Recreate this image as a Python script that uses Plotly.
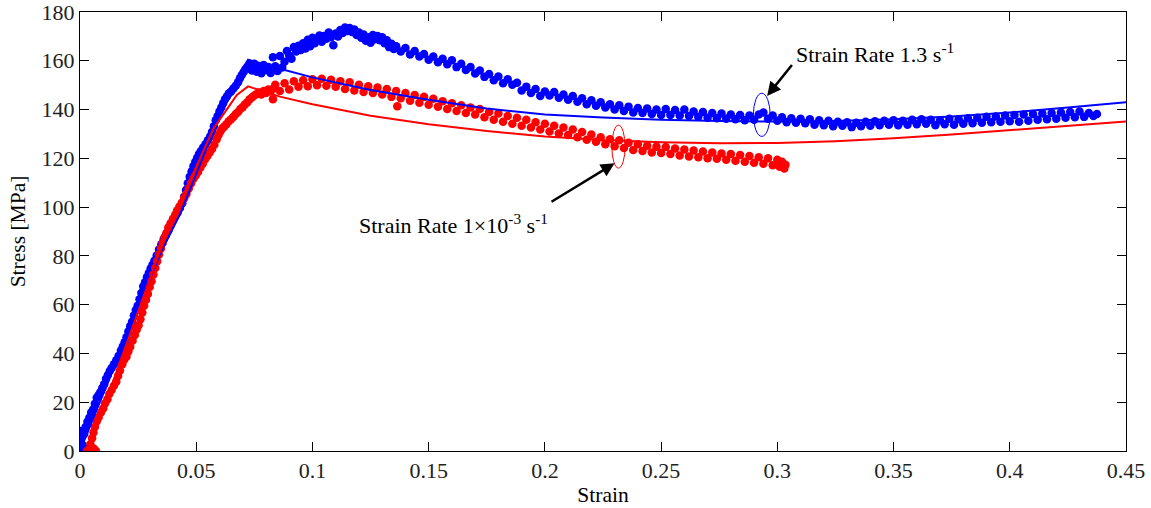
import plotly.graph_objects as go

# ---------------- data ----------------
# Experimental points, strain rate 1.3 s^-1 (blue dots): (strain, stress MPa)
blue_exp = [
    (0.0000, 0.8), (0.0004, 3.6), (0.0008, 6.4), (0.0002, 8.2), (0.0012, 2.4), (0.0018, 7.0),
    (0.0024, 9.8), (0.0032, 12.0), (0.0040, 13.6), (0.0048, 15.8), (0.0056, 17.0), (0.0064, 19.4),
    (0.0072, 21.8), (0.0080, 23.0), (0.0088, 24.2), (0.0096, 25.8), (0.0104, 27.4), (0.0112, 29.6),
    (0.0120, 31.2), (0.0128, 32.8), (0.0136, 34.0), (0.0146, 35.6), (0.0156, 37.2), (0.0166, 39.0),
    (0.0176, 41.2), (0.0184, 42.8), (0.0192, 44.6), (0.0200, 46.6), (0.0208, 49.0), (0.0216, 51.2),
    (0.0224, 53.0), (0.0232, 55.6), (0.0240, 57.8), (0.0248, 59.6), (0.0256, 62.2), (0.0264, 64.8),
    (0.0272, 67.4), (0.0280, 69.2), (0.0288, 71.2), (0.0296, 73.0), (0.0304, 74.8), (0.0312, 76.4),
    (0.0320, 78.0), (0.0330, 80.2), (0.0340, 82.6), (0.0350, 84.8), (0.0360, 86.8), (0.0370, 88.6),
    (0.0380, 90.4), (0.0390, 92.6), (0.0400, 94.6), (0.0410, 96.4), (0.0420, 97.8), (0.0430, 99.6),
    (0.0440, 101.6), (0.0448, 104.2), (0.0456, 107.0), (0.0464, 109.8), (0.0472, 112.4), (0.0480, 114.6),
    (0.0488, 116.8), (0.0496, 118.6), (0.0504, 120.2), (0.0512, 121.8), (0.0520, 123.0), (0.0530, 124.4),
    (0.0540, 125.8), (0.0550, 127.4), (0.0560, 129.0), (0.0568, 130.8), (0.0576, 133.2), (0.0584, 135.6),
    (0.0592, 137.4), (0.0600, 139.2), (0.0608, 140.8), (0.0616, 142.6), (0.0624, 144.2), (0.0632, 145.4),
    (0.0640, 146.6), (0.0650, 147.4), (0.0660, 148.6), (0.0670, 149.8), (0.0680, 151.2), (0.0688, 152.8),
    (0.0696, 154.2), (0.0704, 155.4), (0.0712, 156.6), (0.0720, 157.6), (0.0728, 158.8), (0.0736, 156.4),
    (0.074, 156.0), (0.075, 158.8), (0.076, 155.5), (0.077, 157.9), (0.078, 154.9), (0.079, 158.3),
    (0.080, 156.2), (0.081, 157.4), (0.082, 155.0), (0.083, 161.4), (0.084, 157.8), (0.085, 155.8),
    (0.086, 162.0), (0.087, 157.2), (0.088, 159.6), (0.089, 164.0), (0.090, 162.2), (0.091, 160.8),
    (0.092, 165.6), (0.093, 163.8), (0.094, 166.2), (0.095, 164.4), (0.096, 167.2), (0.097, 165.0),
    (0.098, 168.6), (0.099, 166.0), (0.100, 169.4), (0.101, 167.2), (0.102, 168.8), (0.103, 170.4),
    (0.104, 167.8), (0.105, 170.2), (0.106, 169.0), (0.107, 171.6), (0.108, 169.6), (0.109, 166.4),
    (0.110, 171.2), (0.111, 170.0), (0.112, 172.6), (0.113, 171.4), (0.114, 173.6), (0.115, 172.2),
    (0.116, 173.4), (0.117, 171.8), (0.118, 172.8), (0.119, 170.6), (0.120, 171.6), (0.121, 169.4),
    (0.122, 170.8), (0.123, 168.2), (0.124, 169.6), (0.125, 167.4), (0.126, 170.6), (0.127, 168.8),
    (0.128, 170.2), (0.129, 168.4), (0.130, 169.6), (0.131, 167.2), (0.132, 168.4), (0.133, 165.6),
    (0.134, 167.0), (0.135, 164.8), (0.136, 166.0), (0.138, 163.8), (0.140, 165.2), (0.142, 162.6),
    (0.144, 164.0), (0.146, 161.8), (0.148, 162.8), (0.150, 160.4), (0.152, 161.8), (0.154, 159.4),
    (0.156, 160.8), (0.158, 158.6), (0.160, 160.2), (0.162, 157.4), (0.164, 158.8), (0.166, 156.2),
    (0.168, 157.4), (0.170, 154.8), (0.172, 156.0), (0.174, 153.4), (0.176, 154.6), (0.178, 152.0),
    (0.180, 153.6), (0.182, 150.8), (0.184, 152.4), (0.186, 150.2), (0.188, 151.0), (0.190, 147.8),
    (0.192, 149.4), (0.194, 146.8), (0.196, 148.4), (0.198, 145.6), (0.200, 147.4), (0.202, 145.8),
    (0.204, 147.2), (0.206, 144.8), (0.208, 146.2), (0.210, 144.0), (0.212, 145.6), (0.214, 143.2),
    (0.216, 144.6), (0.218, 142.2), (0.220, 143.8), (0.222, 141.6), (0.224, 143.0), (0.226, 140.8),
    (0.228, 142.2), (0.230, 140.0), (0.232, 141.8), (0.234, 139.4), (0.236, 141.2), (0.238, 138.8),
    (0.240, 140.6), (0.242, 138.6), (0.244, 140.4), (0.246, 138.2), (0.248, 140.0), (0.250, 137.8),
    (0.252, 140.2), (0.254, 137.8), (0.256, 139.8), (0.258, 137.6), (0.260, 140.0), (0.262, 137.4),
    (0.264, 139.2), (0.266, 137.0), (0.268, 139.0), (0.270, 136.6), (0.272, 138.6), (0.274, 136.4),
    (0.276, 138.4), (0.278, 136.2), (0.280, 138.0), (0.282, 136.0), (0.284, 137.8), (0.286, 135.6),
    (0.288, 137.6), (0.290, 135.8), (0.292, 138.0), (0.294, 138.8), (0.296, 136.2), (0.298, 137.6),
    (0.300, 135.4), (0.302, 136.8), (0.304, 134.8), (0.306, 136.4), (0.308, 134.6), (0.310, 136.2),
    (0.312, 134.4), (0.314, 136.0), (0.316, 133.8), (0.318, 135.6), (0.320, 133.6), (0.322, 135.4),
    (0.324, 133.2), (0.326, 135.0), (0.328, 133.4), (0.330, 134.8), (0.332, 132.8), (0.334, 134.6),
    (0.336, 133.2), (0.338, 135.0), (0.340, 133.4), (0.342, 135.2), (0.344, 133.6), (0.346, 135.4),
    (0.348, 133.8), (0.350, 135.6), (0.352, 133.6), (0.354, 135.4), (0.356, 133.8), (0.358, 135.8),
    (0.360, 134.0), (0.362, 136.0), (0.364, 134.2), (0.366, 135.8), (0.368, 133.6), (0.370, 135.6),
    (0.372, 134.0), (0.374, 136.2), (0.376, 133.8), (0.378, 136.0), (0.380, 134.2), (0.382, 136.4),
    (0.384, 134.4), (0.386, 136.6), (0.388, 134.6), (0.390, 137.0), (0.392, 134.8), (0.394, 137.2),
    (0.396, 135.0), (0.398, 137.6), (0.400, 135.2), (0.402, 137.8), (0.404, 135.0), (0.406, 138.0),
    (0.408, 135.4), (0.410, 138.2), (0.412, 135.8), (0.414, 138.4), (0.416, 136.0), (0.418, 138.6),
    (0.420, 136.2), (0.422, 138.8), (0.424, 136.6), (0.426, 139.0), (0.428, 136.8), (0.430, 139.2),
    (0.432, 137.0), (0.434, 138.6), (0.436, 137.4), (0.4375, 138.2),
]

# Experimental points, strain rate 1e-3 s^-1 (red dots): (strain, stress MPa)
red_exp = [
    (0.0030, 0.0), (0.0040, 0.6), (0.0050, 0.2), (0.0060, 0.9), (0.0068, 0.1), (0.0045, 2.8),
    (0.0052, 5.2), (0.0058, 7.6), (0.0064, 9.8), (0.0072, 12.2), (0.0080, 13.8), (0.0090, 15.8),
    (0.0100, 17.4), (0.0108, 19.6), (0.0118, 21.2), (0.0126, 23.4), (0.0136, 25.0), (0.0146, 26.8),
    (0.0156, 28.4), (0.0164, 30.8), (0.0172, 33.0), (0.0182, 35.6), (0.0190, 37.4), (0.0200, 38.6),
    (0.0208, 40.8), (0.0216, 42.6), (0.0226, 45.2), (0.0236, 47.6), (0.0244, 49.8), (0.0252, 51.6),
    (0.0260, 54.0), (0.0268, 56.8), (0.0276, 59.6), (0.0284, 62.0), (0.0292, 64.4), (0.0300, 67.2),
    (0.0308, 69.6), (0.0316, 72.4), (0.0324, 75.0), (0.0332, 77.8), (0.0340, 80.6), (0.0348, 83.0),
    (0.0356, 85.4), (0.0364, 87.6), (0.0372, 89.4), (0.0380, 91.6), (0.0390, 93.4), (0.0400, 95.2),
    (0.0410, 97.0), (0.0418, 98.6), (0.0428, 100.2), (0.0438, 101.8), (0.0448, 103.6), (0.0458, 105.4),
    (0.0468, 107.6), (0.0478, 109.8), (0.0488, 111.6), (0.0498, 113.0), (0.0508, 114.4), (0.0518, 116.2),
    (0.0528, 117.8), (0.0538, 119.6), (0.0548, 121.0), (0.0558, 122.4), (0.0568, 123.8), (0.0578, 125.6),
    (0.0588, 127.8), (0.0596, 129.6), (0.0604, 131.0), (0.0612, 132.2), (0.0620, 133.0), (0.0630, 134.0),
    (0.0640, 135.2), (0.0650, 136.0), (0.0660, 137.0), (0.0670, 138.2), (0.0680, 139.0), (0.0690, 140.2),
    (0.0700, 141.0), (0.0710, 142.2), (0.0720, 143.0), (0.0730, 144.2), (0.0740, 145.0), (0.0750, 145.8),
    (0.0760, 146.4), (0.0770, 147.0), (0.0780, 146.2), (0.0790, 147.6), (0.0800, 146.8), (0.0810, 148.2),
    (0.0820, 147.4), (0.0830, 144.2), (0.0832, 148.6),
    (0.084, 150.2), (0.086, 147.6), (0.088, 150.8), (0.090, 148.2), (0.092, 151.6), (0.094, 149.4),
    (0.096, 152.0), (0.098, 149.6), (0.100, 152.4), (0.102, 150.0), (0.104, 152.6), (0.106, 149.8),
    (0.108, 152.2), (0.110, 149.4), (0.112, 151.6), (0.114, 148.4), (0.116, 151.2), (0.118, 147.8),
    (0.120, 150.2), (0.122, 147.2), (0.124, 149.6), (0.126, 146.8), (0.128, 149.0), (0.130, 146.2),
    (0.132, 148.4), (0.134, 145.2), (0.136, 147.6), (0.1365, 141.4), (0.138, 144.6), (0.140, 146.8),
    (0.142, 143.6), (0.144, 146.0), (0.146, 142.8), (0.148, 145.2), (0.150, 142.0), (0.152, 144.4),
    (0.154, 141.2), (0.156, 143.4), (0.158, 140.2), (0.160, 142.6), (0.162, 139.4), (0.164, 141.8),
    (0.166, 138.6), (0.168, 140.8), (0.170, 138.0), (0.172, 140.2), (0.174, 136.8), (0.176, 139.0),
    (0.178, 135.8), (0.180, 138.4), (0.182, 135.0), (0.184, 137.4), (0.186, 134.2), (0.188, 136.6),
    (0.190, 133.4), (0.192, 135.8), (0.194, 132.6), (0.196, 134.8), (0.198, 131.8), (0.200, 134.2),
    (0.202, 131.0), (0.204, 133.4), (0.206, 130.2), (0.208, 132.6), (0.210, 129.6), (0.212, 131.8),
    (0.214, 128.6), (0.216, 130.8), (0.218, 127.6), (0.220, 129.8), (0.222, 126.8), (0.224, 128.6),
    (0.226, 125.8), (0.228, 127.8), (0.230, 125.0), (0.232, 127.4), (0.234, 124.2), (0.236, 126.4),
    (0.238, 123.4), (0.240, 125.8), (0.242, 123.0), (0.244, 125.2), (0.246, 122.4), (0.248, 124.8),
    (0.250, 122.2), (0.252, 124.6), (0.254, 121.8), (0.256, 124.0), (0.258, 121.2), (0.260, 123.6),
    (0.262, 120.8), (0.264, 123.2), (0.266, 120.4), (0.268, 122.8), (0.270, 120.0), (0.272, 122.4),
    (0.274, 119.8), (0.276, 122.0), (0.278, 119.4), (0.280, 121.8), (0.282, 119.0), (0.284, 121.4),
    (0.286, 118.6), (0.288, 121.0), (0.290, 118.2), (0.292, 120.4), (0.294, 117.8), (0.296, 120.0),
    (0.298, 117.2), (0.300, 119.4), (0.301, 116.6), (0.302, 118.6), (0.303, 115.8), (0.3035, 117.4),
]

# Model curves (solid lines)
blue_fit_strain = [0.0, 0.035, 0.043, 0.063, 0.0688, 0.0723, 0.086, 0.100, 0.125, 0.150, 0.175,
                   0.200, 0.225, 0.250, 0.275, 0.300, 0.325, 0.350, 0.375, 0.400, 0.425, 0.450]
blue_fit_stress = [0.0, 82.0, 97.0, 144.5, 151.5, 160.4, 156.7, 153.2, 148.0, 144.0, 140.4,
                   138.0, 136.7, 135.8, 135.3, 135.1, 135.3, 136.0, 137.2, 138.8, 140.8, 143.0]

red_fit_strain = [0.0035, 0.0336, 0.045, 0.0574, 0.0675, 0.0723, 0.086, 0.100, 0.125, 0.150, 0.175,
                  0.190, 0.200, 0.225, 0.250, 0.275, 0.300, 0.325, 0.350, 0.375, 0.400, 0.425, 0.450]
red_fit_stress = [0.0, 80.0, 106.0, 132.2, 146.0, 149.5, 145.3, 142.2, 137.5, 134.0, 131.2,
                  129.8, 129.0, 127.5, 126.6, 126.2, 126.3, 127.0, 128.2, 129.8, 131.5, 133.3, 135.1]

x_ticks = [0, 0.05, 0.1, 0.15, 0.2, 0.25, 0.3, 0.35, 0.4, 0.45]
x_tick_text = ["0", "0.05", "0.1", "0.15", "0.2", "0.25", "0.3", "0.35", "0.4", "0.45"]
y_ticks = [0, 20, 40, 60, 80, 100, 120, 140, 160, 180]

label_fast = "Strain Rate 1.3 s<sup>-1</sup>"
label_slow = "Strain Rate 1\u00d710<sup>-3</sup> s<sup>-1</sup>"

# ---------------- figure ----------------
BLUE = "#0000FF"
RED = "#FF0000"
FONT = "Liberation Serif"

fig = go.Figure()

fig.add_trace(go.Scatter(
    x=[p[0] for p in blue_exp], y=[p[1] for p in blue_exp], mode="markers",
    marker=dict(color=BLUE, size=8.5, line=dict(width=0)), showlegend=False))
fig.add_trace(go.Scatter(
    x=[p[0] for p in red_exp], y=[p[1] for p in red_exp], mode="markers",
    marker=dict(color=RED, size=8.5, line=dict(width=0)), showlegend=False))
fig.add_trace(go.Scatter(
    x=blue_fit_strain, y=blue_fit_stress, mode="lines",
    line=dict(color=BLUE, width=2), showlegend=False))
fig.add_trace(go.Scatter(
    x=red_fit_strain, y=red_fit_stress, mode="lines",
    line=dict(color=RED, width=2), showlegend=False))

# ellipses marking the curves
fig.add_shape(type="circle", xref="x", yref="y", x0=0.2897, x1=0.2969, y0=129.0, y1=146.7,
              line=dict(color=BLUE, width=1))
fig.add_shape(type="circle", xref="x", yref="y", x0=0.2288, x1=0.2345, y0=116.0, y1=133.6,
              line=dict(color=RED, width=1))

# arrows
fig.add_annotation(x=0.2956, y=145.6, ax=0.3068, ay=158.9, xref="x", yref="y", axref="x", ayref="y",
                   text="", showarrow=True, arrowhead=2, arrowsize=1.1, arrowwidth=2.5, arrowcolor="black")
fig.add_annotation(x=0.2300, y=118.0, ax=0.2022, ay=101.8, xref="x", yref="y", axref="x", ayref="y",
                   text="", showarrow=True, arrowhead=2, arrowsize=1.1, arrowwidth=2.5, arrowcolor="black")

# labels
fig.add_annotation(x=0.3072, y=163.3, xref="x", yref="y", text=label_fast, showarrow=False,
                   xanchor="left", yanchor="middle", font=dict(family=FONT, size=22, color="black"))
fig.add_annotation(x=0.1192, y=93.0, xref="x", yref="y", text=label_slow, showarrow=False,
                   xanchor="left", yanchor="middle", font=dict(family=FONT, size=22, color="black"))

axis_common = dict(showline=True, linecolor="black", linewidth=1, mirror="ticks",
                   ticks="inside", ticklen=9, tickwidth=1, tickcolor="black",
                   showgrid=False, zeroline=False, automargin=False, ticklabeloverflow="allow",
                   tickfont=dict(family=FONT, size=22, color="#222222"))

fig.update_xaxes(range=[0, 0.45], tickvals=x_ticks, ticktext=x_tick_text,
                 title=dict(text="Strain", font=dict(family=FONT, size=21.5, color="black"), standoff=4),
                 **axis_common)
fig.update_yaxes(range=[0, 180], tickvals=y_ticks,
                 title=dict(text="Stress [MPa]", font=dict(family=FONT, size=21.5, color="black"), standoff=10),
                 **axis_common)

fig.update_layout(width=1151, height=508, margin=dict(l=80, r=25, t=12, b=57),
                  paper_bgcolor="white", plot_bgcolor="white", showlegend=False)

# remove the browser's default 8 px body margin so the figure sits at the page corner
fig.write_html("out.html", config={"displayModeBar": False},
               post_script="document.body.style.margin='0';")
